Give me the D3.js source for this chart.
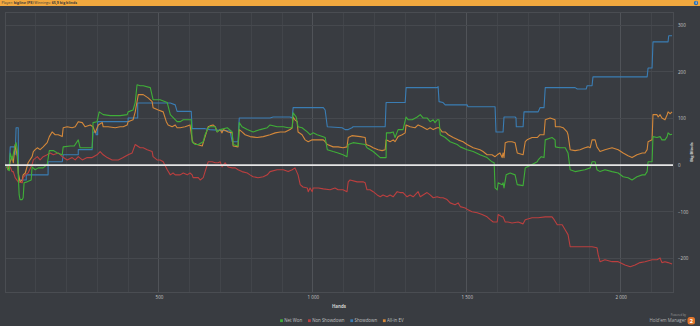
<!DOCTYPE html>
<html><head><meta charset="utf-8">
<script src="https://cdn.jsdelivr.net/npm/d3@7"></script>
<style>
html,body{margin:0;padding:0;background:#393c41;overflow:hidden;}
svg{display:block;font-family:"Open Sans",sans-serif;}
</style></head><body>
<svg id="c" width="700" height="326"></svg>
<script>
// ---- data ----
const playerName = "bigline (PS)";
const winningsText = "65,9 big blinds";
const seriesNames = ["Net Won", "Non Showdown", "Showdown", "All-in EV"];
const xTickValues = [500, 1000, 1500, 2000];
const yTickValues = [-200, -100, 0, 100, 200, 300];
const xLabel = "Hands";
const yLabel = "Big Blinds";

const netWon = [[6,-2],[10,-10],[14,-12],[17,26],[23,11],[30,33],[36,48],[40,33],[43,-21],[46,-64],[49,-74],[56,-74],[59,-70],[62,-38],[72,-36],[85,-32],[88,-4],[98,-10],[108,-6],[124,-6],[137,1],[144,31],[157,31],[170,26],[186,22],[189,39],[212,41],[225,41],[238,54],[244,37],[283,37],[286,91],[299,93],[306,114],[319,108],[342,106],[374,106],[397,108],[400,114],[416,118],[423,134],[429,172],[439,170],[449,170],[472,166],[481,140],[504,140],[527,134],[537,108],[559,93],[569,93],[579,97],[605,97],[608,50],[618,44],[628,44],[644,50],[650,65],[660,80],[666,82],[683,82],[689,71],[699,76],[722,80],[738,71],[741,44],[757,41],[761,91],[770,82],[787,76],[806,71],[829,76],[852,80],[861,86],[884,82],[904,82],[920,80],[933,80],[936,112],[946,103],[952,82],[965,80],[982,71],[991,65],[1001,69],[1014,65],[1031,61],[1040,59],[1047,33],[1066,29],[1082,26],[1098,22],[1111,18],[1115,44],[1131,48],[1170,44],[1176,37],[1196,29],[1219,16],[1238,16],[1239,69],[1251,69],[1261,71],[1267,59],[1277,76],[1293,76],[1303,103],[1310,97],[1323,97],[1339,103],[1349,108],[1358,101],[1371,101],[1381,93],[1391,97],[1397,91],[1404,97],[1410,97],[1414,65],[1430,59],[1446,50],[1469,44],[1479,39],[1501,33],[1521,29],[1543,22],[1566,16],[1582,7],[1589,5],[1592,-49],[1599,-53],[1602,-38],[1615,-42],[1618,-38],[1621,-49],[1628,-21],[1641,-17],[1657,-21],[1664,-42],[1683,-44],[1690,-6],[1696,-4],[1712,1],[1729,7],[1732,11],[1742,18],[1751,16],[1755,54],[1777,59],[1787,54],[1788,39],[1803,37],[1820,37],[1829,26],[1836,-10],[1852,-14],[1884,-10],[1901,-6],[1907,7],[1917,7],[1923,-10],[1933,-14],[1949,-10],[1972,-14],[1992,-17],[2008,-25],[2024,-27],[2037,-32],[2053,-25],[2070,-21],[2079,-21],[2086,-14],[2089,7],[2102,7],[2105,61],[2118,59],[2128,61],[2134,54],[2144,54],[2151,61],[2154,69],[2161,65],[2167,66]];

const nonShowdown = [[6,-4],[17,-4],[23,-14],[27,-14],[33,-27],[43,-36],[56,-38],[59,-27],[66,-21],[75,-17],[88,1],[92,11],[105,18],[114,11],[124,18],[137,22],[147,26],[157,22],[173,26],[186,18],[202,11],[218,16],[228,11],[238,18],[251,11],[267,16],[283,16],[299,22],[309,29],[319,22],[332,16],[348,11],[368,11],[384,16],[400,22],[413,26],[423,44],[439,37],[449,37],[462,33],[478,29],[481,18],[494,11],[504,11],[514,7],[527,-10],[537,-21],[546,-17],[553,-21],[569,-21],[579,-17],[592,-21],[601,-17],[608,-21],[611,-27],[628,-27],[634,-32],[644,-27],[650,-14],[660,7],[673,7],[683,5],[692,5],[699,7],[705,-4],[715,5],[725,-4],[738,-6],[748,-6],[757,-10],[770,-14],[787,-17],[796,-21],[806,-25],[822,-27],[839,-25],[852,-21],[861,-14],[884,-10],[904,-10],[920,-14],[933,-10],[942,-6],[952,-21],[959,-42],[968,-47],[982,-49],[985,-57],[991,-49],[998,-57],[1001,-49],[1018,-49],[1034,-51],[1056,-53],[1072,-49],[1082,-53],[1098,-53],[1111,-57],[1115,-36],[1121,-32],[1144,-36],[1163,-36],[1170,-38],[1176,-53],[1186,-53],[1196,-57],[1209,-64],[1219,-68],[1228,-64],[1241,-68],[1251,-64],[1261,-68],[1274,-57],[1283,-59],[1293,-59],[1306,-68],[1316,-64],[1326,-68],[1339,-59],[1342,-57],[1349,-68],[1358,-64],[1371,-59],[1381,-64],[1391,-70],[1404,-68],[1414,-70],[1423,-70],[1436,-74],[1446,-81],[1462,-85],[1472,-81],[1479,-89],[1495,-92],[1504,-96],[1517,-100],[1534,-102],[1550,-106],[1566,-111],[1576,-117],[1586,-122],[1599,-122],[1602,-106],[1615,-111],[1618,-111],[1625,-122],[1634,-122],[1647,-124],[1667,-122],[1683,-126],[1690,-117],[1712,-113],[1732,-113],[1755,-111],[1777,-111],[1784,-117],[1794,-128],[1810,-128],[1820,-139],[1829,-149],[1836,-175],[1862,-175],[1884,-175],[1907,-175],[1923,-177],[1927,-192],[1933,-207],[1949,-203],[1972,-207],[1992,-207],[2014,-214],[2031,-218],[2047,-214],[2063,-209],[2079,-207],[2102,-203],[2118,-203],[2128,-199],[2134,-209],[2144,-207],[2154,-209],[2167,-212]];

const showdown = [[6,-4],[14,1],[17,39],[30,39],[33,22],[36,80],[43,80],[44,-32],[69,-32],[69,-21],[140,-21],[140,7],[186,7],[189,22],[238,22],[238,33],[283,33],[286,71],[296,71],[296,65],[301,65],[301,93],[400,93],[400,101],[431,101],[431,133],[537,133],[553,129],[559,115],[605,115],[608,78],[650,78],[666,76],[731,73],[738,50],[757,50],[761,101],[861,101],[871,103],[926,103],[933,101],[936,123],[1034,123],[1040,118],[1047,82],[1095,80],[1105,76],[1115,76],[1127,80],[1131,82],[1235,82],[1238,134],[1300,134],[1303,166],[1404,166],[1407,168],[1410,136],[1423,134],[1430,129],[1501,129],[1504,125],[1592,125],[1595,71],[1618,71],[1621,103],[1657,103],[1660,101],[1661,82],[1683,82],[1686,114],[1732,114],[1738,123],[1751,123],[1755,166],[1852,166],[1859,163],[1888,163],[1891,170],[1907,170],[1910,189],[2086,189],[2089,208],[2102,208],[2105,264],[2154,264],[2156,277],[2167,277]];

const allInEV = [[6,-4],[10,-10],[17,7],[23,18],[27,5],[33,44],[40,18],[43,-17],[49,-36],[56,-32],[59,-21],[66,-17],[75,5],[88,18],[92,29],[98,33],[105,37],[114,33],[124,39],[137,48],[144,61],[153,71],[163,65],[173,65],[186,61],[189,80],[202,82],[218,80],[228,82],[238,93],[251,91],[260,82],[277,86],[286,82],[293,69],[303,86],[316,91],[319,82],[335,82],[358,80],[374,82],[384,82],[397,86],[400,93],[416,97],[423,114],[433,151],[449,151],[465,144],[478,136],[481,123],[498,118],[514,114],[524,93],[530,86],[543,82],[553,86],[559,80],[569,80],[585,82],[601,86],[608,54],[611,48],[624,44],[641,41],[644,48],[650,61],[660,82],[666,84],[676,86],[683,82],[689,71],[699,76],[705,69],[709,76],[725,71],[738,69],[741,41],[757,39],[761,76],[770,71],[780,65],[796,61],[819,59],[839,61],[861,65],[878,69],[894,71],[910,71],[926,76],[933,80],[936,103],[942,97],[949,93],[952,71],[965,65],[975,54],[985,50],[998,54],[1018,54],[1034,54],[1040,50],[1047,44],[1066,39],[1082,39],[1098,37],[1111,39],[1115,59],[1127,63],[1154,61],[1170,59],[1173,44],[1186,41],[1196,37],[1212,33],[1225,31],[1235,33],[1238,54],[1251,50],[1261,54],[1267,50],[1277,61],[1290,65],[1300,69],[1303,86],[1316,82],[1332,80],[1342,86],[1355,82],[1371,76],[1381,80],[1391,76],[1404,80],[1410,80],[1420,71],[1430,71],[1440,65],[1456,59],[1472,54],[1488,50],[1501,44],[1521,37],[1543,33],[1553,29],[1566,22],[1582,22],[1592,18],[1599,22],[1608,26],[1615,16],[1618,26],[1621,16],[1625,48],[1634,50],[1647,50],[1657,48],[1664,26],[1683,22],[1690,50],[1696,54],[1712,59],[1729,59],[1738,65],[1751,65],[1755,97],[1771,101],[1787,97],[1788,82],[1803,82],[1813,80],[1826,71],[1829,65],[1836,33],[1852,31],[1868,33],[1884,37],[1894,39],[1901,37],[1907,54],[1917,54],[1923,39],[1933,29],[1949,33],[1972,37],[1992,33],[2008,26],[2024,20],[2037,16],[2053,22],[2070,26],[2079,26],[2086,33],[2089,50],[2102,54],[2105,108],[2118,108],[2122,103],[2128,108],[2134,101],[2144,97],[2151,108],[2154,114],[2161,110],[2167,114]];

// ---- styling / layout ----
const colors = {"Net Won":"#3fae38","Non Showdown":"#bb3f3f","Showdown":"#3a7db4","All-in EV":"#d4883a"};
const seriesData = {"Net Won":netWon,"Non Showdown":nonShowdown,"Showdown":showdown,"All-in EV":allInEV};
const W = 700, H = 326;
const plot = {left:5, right:673, top:12, bottom:292};

const svg = d3.select("#c");
svg.append("rect").attr("width",W).attr("height",H).attr("fill","#393c41");

const x = d3.scaleLinear().domain([0, 2170]).range([plot.left, plot.right]);
const y = d3.scaleLinear().domain([-272, 328]).range([plot.bottom, plot.top]);

// grid
const gGrid = svg.append("g");
const minorX = d3.range(0, 2170, 100);
gGrid.selectAll("line.vx").data(minorX).join("line")
  .attr("x1", d => x(d)).attr("x2", d => x(d))
  .attr("y1", plot.top).attr("y2", plot.bottom)
  .attr("stroke", d => d % 500 === 0 && d > 0 ? "#505358" : "#42454a")
  .attr("stroke-width", 1).attr("shape-rendering","crispEdges");
gGrid.selectAll("line.hy").data(yTickValues.filter(v => v !== 0)).join("line")
  .attr("x1", plot.left).attr("x2", plot.right)
  .attr("y1", d => y(d)).attr("y2", d => y(d))
  .attr("stroke", "#46494e").attr("stroke-width", 1).attr("shape-rendering","crispEdges");
gGrid.append("rect").attr("x", plot.left).attr("y", plot.top)
  .attr("width", plot.right - plot.left).attr("height", plot.bottom - plot.top)
  .attr("fill","none").attr("stroke","#4a4d52").attr("shape-rendering","crispEdges");

// header bar
svg.append("rect").attr("x",0).attr("y",0).attr("width",W).attr("height",6).attr("fill","#f2a93f");
const ht = svg.append("text").attr("x",1.5).attr("y",4.3).attr("font-size",3.6).attr("fill","#3a3a3a");
ht.append("tspan").text("Player: ");
ht.append("tspan").attr("font-weight","bold").text(playerName);
ht.append("tspan").text(" Winnings: ");
ht.append("tspan").attr("font-weight","bold").text(winningsText);
svg.append("circle").attr("cx",696).attr("cy",3).attr("r",2.2).attr("fill","#2f6fb0");
svg.append("text").attr("x",696).attr("y",4.3).attr("text-anchor","middle").attr("font-size",3.5)
  .attr("font-weight","bold").attr("fill","#fff").text("i");

// lines
const line = d3.line().x(d => x(d[0])).y(d => y(d[1]));
const drawOrder = ["Showdown","All-in EV","Non Showdown","Net Won"];
svg.append("g").selectAll("path").data(drawOrder).join("path")
  .attr("d", n => line(seriesData[n]))
  .attr("fill","none").attr("stroke", n => colors[n])
  .attr("stroke-width", 1.1).attr("stroke-linejoin","round");

// zero line
svg.append("line").attr("x1", plot.left).attr("x2", plot.right)
  .attr("y1", y(0)).attr("y2", y(0)).attr("stroke","#e6e6e6").attr("stroke-width",1.8);

// x axis labels
const loc = d3.formatLocale({decimal:",", thousands:" ", grouping:[3], currency:["",""]});
const fmt = loc.format(",");
const xAxis = d3.axisBottom(x).tickValues(xTickValues).tickFormat(fmt).tickSize(0).tickPadding(4);
const gx = svg.append("g").attr("transform", `translate(0,${plot.bottom})`).call(xAxis);
gx.select(".domain").remove();
gx.selectAll("text").attr("font-size",4.5).attr("fill","#c8c8c8").attr("font-family","Open Sans, sans-serif");

svg.append("text").attr("x",(plot.left+plot.right)/2).attr("y",307.5).attr("text-anchor","middle")
  .attr("font-size",4.5).attr("font-weight","bold").attr("fill","#d0d0d0").text(xLabel);

// y axis labels (right)
const yAxis = d3.axisRight(y).tickValues(yTickValues).tickSize(0).tickPadding(5);
const gy = svg.append("g").attr("transform", `translate(${plot.right},0)`).call(yAxis);
gy.select(".domain").remove();
gy.selectAll("text").attr("font-size",4.5).attr("fill","#c8c8c8").attr("font-family","Open Sans, sans-serif");

svg.append("text").attr("transform", `translate(692,${(plot.top+plot.bottom)/2}) rotate(-90)`)
  .attr("text-anchor","middle").attr("dy","0.35em")
  .attr("font-size",4).attr("font-weight","bold").attr("fill","#d0d0d0").text(yLabel);

// legend
const gl = svg.append("g");
const items = gl.selectAll("g").data(seriesNames).join("g");
items.append("rect").attr("width",2.8).attr("height",2.8).attr("y",-1.4).attr("fill", n => colors[n]);
items.append("text").attr("x",4.2).attr("dy","0.35em").attr("font-size",4.4).attr("fill","#c0c0c0").text(n => n);
let cx = 0; const offs = [];
items.each(function(){ const w = this.getBBox().width; offs.push(cx); cx += w + 5.5; });
const total = cx - 5.5;
const start = (plot.left + plot.right)/2 + 3 - total/2;
items.attr("transform", (d,i) => `translate(${start + offs[i]},320.7)`);

// branding
svg.append("text").attr("x",686).attr("y",316.3).attr("text-anchor","end").attr("font-size",2.8).attr("fill","#9a9a9a").text("Powered by");
svg.append("text").attr("x",686).attr("y",321.8).attr("text-anchor","end").attr("font-size",4.4).attr("fill","#b0b0b0").text("Hold'em Manager");
svg.append("rect").attr("x",687.5).attr("y",317).attr("width",7.5).attr("height",7.5).attr("rx",2.5).attr("fill","#e2762c");
svg.append("text").attr("x",691.25).attr("y",322.7).attr("text-anchor","middle").attr("font-size",5.5).attr("font-weight","bold").attr("fill","#fff").text("2");
</script>
</body></html>
